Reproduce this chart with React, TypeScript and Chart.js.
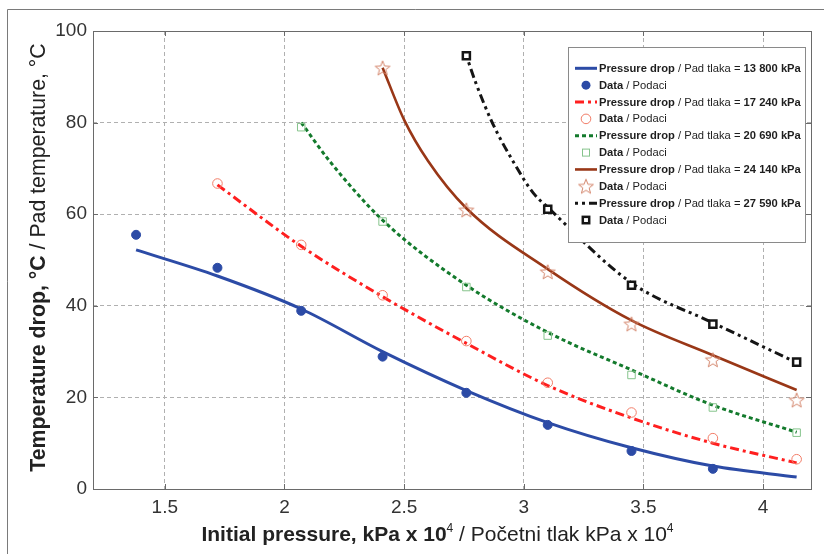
import React, { useEffect, useRef } from "react";
import { Chart, registerables } from "chart.js";
Chart.register(...registerables);

// Initial pressure, kPa x 10^4 (measurement points)
const pressureX = [1.38, 1.72, 2.07, 2.41, 2.76, 3.1, 3.45, 3.79, 4.14];
const xTicks = [1.5, 2, 2.5, 3, 3.5, 4];
const yTicks = [0, 20, 40, 60, 80, 100];

// Pressure drop 13 800 kPa
const fit13800 = [52.2, 46.5, 39.3, 30.0, 21.5, 14.5, 9.0, 5.0, 2.6];
const data13800 = [55.5, 48.3, 38.9, 28.9, 21.0, 14.0, 8.3, 4.4];
// Pressure drop 17 240 kPa
const fit17240 = [66.4, 53.0, 42.0, 31.8, 22.6, 15.5, 10.0, 5.7];
const data17240 = [66.7, 53.3, 42.3, 32.3, 23.2, 16.7, 11.1, 6.5];
// Pressure drop 20 690 kPa
const fit20690X = [2.07, 2.19, 2.41, 2.76, 3.1, 3.45, 3.79, 4.14];
const fit20690 = [80.0, 71.5, 58.7, 44.5, 34.2, 26.0, 18.3, 12.4];
const data20690 = [79.0, 58.4, 44.1, 33.5, 24.9, 17.8, 12.3];
// Pressure drop 24 140 kPa
const fit24140X = [2.41, 2.5, 2.6, 2.76, 3.1, 3.45, 3.79, 4.14];
const fit24140 = [92.0, 80.6, 71.6, 61.3, 48.0, 36.8, 29.2, 21.6];
const data24140 = [91.9, 60.9, 47.4, 36.0, 28.2, 19.4];
// Pressure drop 27 590 kPa
const fit27590X = [2.76, 2.8, 2.87, 2.96, 3.04, 3.1, 3.45, 3.79, 4.14];
const fit27590 = [94.6, 88.6, 79.8, 71.1, 64.6, 61.5, 45.0, 36.3, 27.6];
const data27590 = [94.6, 61.1, 44.5, 36.0, 27.7];

const dropLabels = ["13 800 kPa", "17 240 kPa", "20 690 kPa", "24 140 kPa", "27 590 kPa"];

const FONT = "'Liberation Sans', Arial, sans-serif";

type Marker = "dot" | "circle" | "square" | "star" | "bsquare";
interface Series {
  label: string;
  fitX: number[];
  fit: number[];
  dataX: number[];
  data: number[];
  color: string;
  markColor: string;
  dash: number[];
  width: number;
  marker: Marker;
}

const series: Series[] = [
  { label: dropLabels[0], fitX: pressureX, fit: fit13800, dataX: pressureX.slice(0, 8), data: data13800, color: "#2c4ba6", markColor: "#2c4ba6", dash: [], width: 3, marker: "dot" },
  { label: dropLabels[1], fitX: pressureX.slice(1), fit: fit17240, dataX: pressureX.slice(1), data: data17240, color: "#ff1f1f", markColor: "#f27d68", dash: [9, 4, 3, 4], width: 3, marker: "circle" },
  { label: dropLabels[2], fitX: fit20690X, fit: fit20690, dataX: pressureX.slice(2), data: data20690, color: "#137a2c", markColor: "#86c48c", dash: [4, 3], width: 3, marker: "square" },
  { label: dropLabels[3], fitX: fit24140X, fit: fit24140, dataX: pressureX.slice(3), data: data24140, color: "#993717", markColor: "#d3846a", dash: [], width: 2.6, marker: "star" },
  { label: dropLabels[4], fitX: fit27590X, fit: fit27590, dataX: pressureX.slice(4), data: data27590, color: "#151515", markColor: "#151515", dash: [3, 4, 3, 4, 9, 4], width: 3, marker: "bsquare" },
];

const pts = (xs: number[], ys: number[]) => ys.map((y, i) => ({ x: xs[i], y }));

function makeStar(color: string): HTMLCanvasElement {
  const c = document.createElement("canvas");
  c.width = 18;
  c.height = 18;
  const g = c.getContext("2d")!;
  g.strokeStyle = color;
  g.lineWidth = 1;
  g.beginPath();
  for (let i = 0; i < 10; i++) {
    const r = i % 2 === 0 ? 7.8 : 3.3;
    const a = -Math.PI / 2 + (i * Math.PI) / 5;
    const px = 9 + r * Math.cos(a);
    const py = 9.6 + r * Math.sin(a);
    if (i === 0) g.moveTo(px, py);
    else g.lineTo(px, py);
  }
  g.closePath();
  g.stroke();
  return c;
}

function drawMarker(ctx: CanvasRenderingContext2D, s: Series, x: number, y: number, star: HTMLCanvasElement) {
  ctx.save();
  ctx.setLineDash([]);
  if (s.marker === "dot") {
    ctx.fillStyle = s.markColor;
    ctx.beginPath();
    ctx.arc(x, y, 4.5, 0, Math.PI * 2);
    ctx.fill();
  } else if (s.marker === "circle") {
    ctx.strokeStyle = s.markColor;
    ctx.lineWidth = 1;
    ctx.beginPath();
    ctx.arc(x, y, 4.8, 0, Math.PI * 2);
    ctx.stroke();
  } else if (s.marker === "square") {
    ctx.strokeStyle = s.markColor;
    ctx.lineWidth = 1;
    ctx.strokeRect(x - 3.5, y - 3.5, 7, 7);
  } else if (s.marker === "star") {
    ctx.drawImage(star, x - 9, y - 9);
  } else {
    ctx.strokeStyle = s.markColor;
    ctx.lineWidth = 2.5;
    ctx.strokeRect(x - 3.2, y - 3.2, 6.4, 6.4);
  }
  ctx.restore();
}

type Part = { t: string; f: string; dy?: number };
function drawParts(ctx: CanvasRenderingContext2D, parts: Part[], x: number, y: number) {
  let cx = x;
  for (const p of parts) {
    ctx.font = p.f;
    ctx.fillText(p.t, cx, y + (p.dy || 0));
    cx += ctx.measureText(p.t).width;
  }
}
function partsWidth(ctx: CanvasRenderingContext2D, parts: Part[]) {
  let w = 0;
  for (const p of parts) {
    ctx.font = p.f;
    w += ctx.measureText(p.t).width;
  }
  return w;
}

export default function App() {
  const ref = useRef<HTMLCanvasElement>(null);
  useEffect(() => {
    const canvas = ref.current!;
    const star = makeStar("#d3846a");
    const datasets: any[] = [];
    series.forEach((s) => {
      let pointStyle: any = "circle";
      let radius = 4.5;
      let bg = s.markColor;
      let bw = 1;
      if (s.marker === "circle") { pointStyle = "circle"; radius = 4.8; bg = "rgba(0,0,0,0)"; }
      if (s.marker === "square") { pointStyle = "rect"; radius = 5.3; bg = "rgba(0,0,0,0)"; }
      if (s.marker === "star") { pointStyle = star; radius = 8; bg = "rgba(0,0,0,0)"; }
      if (s.marker === "bsquare") { pointStyle = "rect"; radius = 5; bg = "#ffffff"; bw = 2.5; }
      datasets.push({
        data: pts(s.dataX, s.data),
        showLine: false,
        pointStyle,
        pointRadius: radius,
        pointHoverRadius: radius,
        pointBackgroundColor: bg,
        pointBorderColor: s.markColor,
        pointBorderWidth: bw,
      });
      datasets.push({
        data: pts(s.fitX, s.fit),
        showLine: true,
        borderColor: s.color,
        borderWidth: s.width,
        borderDash: s.dash,
        pointRadius: 0,
        pointHoverRadius: 0,
        fill: false,
        cubicInterpolationMode: "monotone",
      });
    });

    const framePlugin = {
      id: "frame",
      afterDraw(chart: any) {
        const ctx: CanvasRenderingContext2D = chart.ctx;
        const a = chart.chartArea;
        const xs = chart.scales.x;
        const ys = chart.scales.y;
        ctx.save();
        // outer figure frame (top and left)
        ctx.strokeStyle = "#7a7a7a";
        ctx.lineWidth = 1;
        ctx.beginPath();
        ctx.moveTo(7.5, 554);
        ctx.lineTo(7.5, 9.5);
        ctx.lineTo(824, 9.5);
        ctx.stroke();
        // plot box
        ctx.strokeStyle = "#6a6a6a";
        ctx.strokeRect(Math.round(a.left) + 0.5, Math.round(a.top) + 0.5, Math.round(a.right - a.left), Math.round(a.bottom - a.top));
        // inside ticks
        ctx.beginPath();
        xTicks.forEach((v) => {
          const px = Math.round(xs.getPixelForValue(v)) + 0.5;
          ctx.moveTo(px, a.bottom);
          ctx.lineTo(px, a.bottom - 5);
          ctx.moveTo(px, a.top);
          ctx.lineTo(px, a.top + 5);
        });
        yTicks.forEach((v) => {
          const py = Math.round(ys.getPixelForValue(v)) + 0.5;
          ctx.moveTo(a.left, py);
          ctx.lineTo(a.left + 5, py);
          ctx.moveTo(a.right, py);
          ctx.lineTo(a.right - 5, py);
        });
        ctx.stroke();

        // x title
        ctx.fillStyle = "#222";
        ctx.textBaseline = "alphabetic";
        ctx.textAlign = "left";
        const bold = `bold 21px ${FONT}`;
        const norm = `21px ${FONT}`;
        const sup = `12px ${FONT}`;
        const xParts: Part[] = [
          { t: "Initial pressure, kPa x 10", f: bold },
          { t: "4", f: sup, dy: -9 },
          { t: " / Početni tlak kPa x 10", f: norm },
          { t: "4", f: sup, dy: -9 },
        ];
        const xw = partsWidth(ctx, xParts);
        drawParts(ctx, xParts, 437.5 - xw / 2, 541);

        // y title
        const yParts: Part[] = [
          { t: "Temperature drop, °C", f: `bold 21.3px ${FONT}` },
          { t: " / Pad temperature, °C", f: `21.3px ${FONT}` },
        ];
        const yw = partsWidth(ctx, yParts);
        ctx.save();
        ctx.translate(45, 257.5);
        ctx.rotate(-Math.PI / 2);
        drawParts(ctx, yParts, -yw / 2, 0);
        ctx.restore();

        // legend
        const lx = 568, ly = 47, lw = 237, lh = 195;
        ctx.fillStyle = "#ffffff";
        ctx.fillRect(lx, ly, lw, lh);
        ctx.strokeStyle = "#8a8a8a";
        ctx.lineWidth = 1;
        ctx.strokeRect(lx + 0.5, ly + 0.5, lw, lh);
        const rowH = 16.86;
        ctx.textBaseline = "middle";
        series.forEach((s, i) => {
          const y1 = 68.3 + rowH * 2 * i;
          const y2 = y1 + rowH;
          ctx.save();
          ctx.strokeStyle = s.color;
          ctx.lineWidth = s.width;
          ctx.setLineDash(s.dash);
          ctx.beginPath();
          ctx.moveTo(575, y1);
          ctx.lineTo(597, y1);
          ctx.stroke();
          ctx.restore();
          drawMarker(ctx, s, 586, y2, star);
          ctx.fillStyle = "#1e1e1e";
          drawParts(ctx, [
            { t: "Pressure drop", f: `bold 11.2px ${FONT}` },
            { t: " / Pad tlaka = ", f: `11.2px ${FONT}` },
            { t: s.label, f: `bold 11.2px ${FONT}` },
          ], 599, y1 + 0.5);
          drawParts(ctx, [
            { t: "Data", f: `bold 11.2px ${FONT}` },
            { t: " / Podaci", f: `11.2px ${FONT}` },
          ], 599, y2 + 0.5);
        });
        ctx.restore();
      },
    };

    const chart = new Chart(canvas, {
      type: "scatter",
      data: { datasets },
      options: {
        animation: false,
        responsive: false,
        devicePixelRatio: 1,
        events: [],
        layout: { padding: { left: 0, right: 13, top: 31, bottom: 0 } },
        plugins: { legend: { display: false }, tooltip: { enabled: false }, title: { display: false } },
        scales: {
          x: {
            type: "linear",
            min: 1.2,
            max: 4.2,
            afterBuildTicks: (s: any) => { s.ticks = xTicks.map((v) => ({ value: v })); },
            afterFit: (s: any) => { s.height = 65; },
            grid: { color: "#b0b0b0", lineWidth: 1, drawTicks: false },
            border: { display: false, dash: [4, 3] },
            ticks: { font: { family: FONT, size: 19 }, color: "#333", padding: 7, maxRotation: 0, callback: (v: any) => String(v) },
          },
          y: {
            type: "linear",
            min: 0,
            max: 100,
            afterBuildTicks: (s: any) => { s.ticks = yTicks.map((v) => ({ value: v })); },
            afterFit: (s: any) => { s.width = 93; },
            grid: { color: "#b0b0b0", lineWidth: 1, drawTicks: false },
            border: { display: false, dash: [4, 3] },
            ticks: { font: { family: FONT, size: 19 }, color: "#333", padding: 6, callback: (v: any) => String(v) },
          },
        },
      },
      plugins: [framePlugin],
    } as any);
    return () => chart.destroy();
  }, []);
  return (
    <div style={{ position: "absolute", left: 0, top: 0, width: 824, height: 554, background: "#fff" }}>
      <canvas ref={ref} width={824} height={554} style={{ display: "block" }} />
    </div>
  );
}
